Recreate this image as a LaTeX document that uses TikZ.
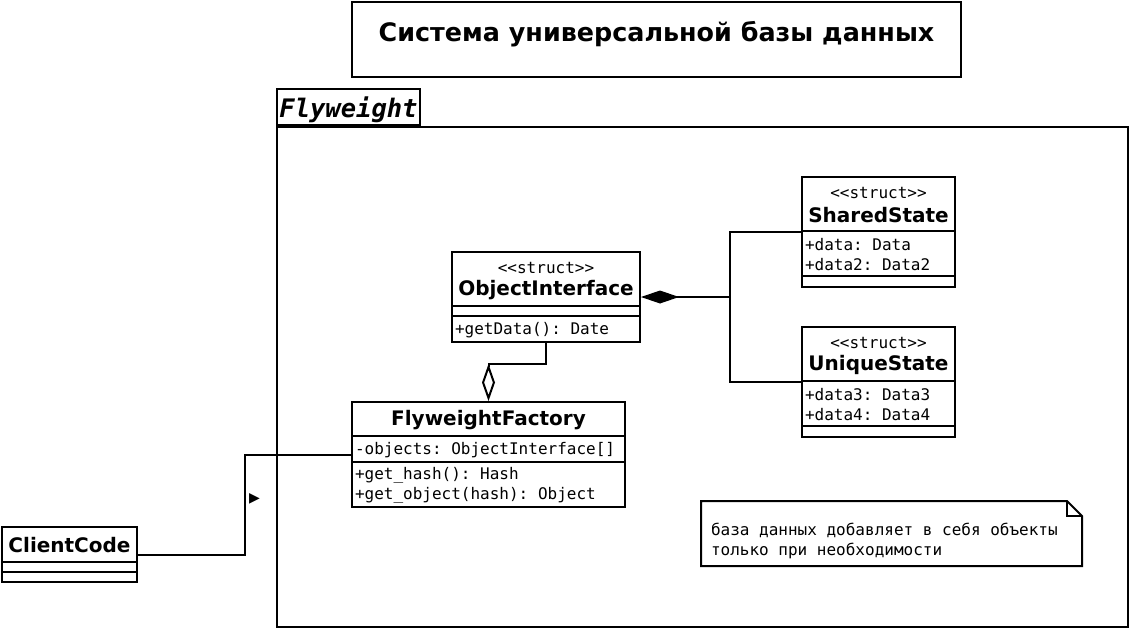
\documentclass[tikz,border=0pt]{standalone}
\usepackage{fontspec}
\setmainfont{DejaVu Sans}
\setmonofont{DejaVu Sans Mono}
\usetikzlibrary{positioning,arrows.meta}

\begin{document}
\begin{tikzpicture}[x=1pt, y=-1pt, line width=2pt,
    box/.style={draw, fill=white, inner sep=0pt},
    frame/.style={draw, inner sep=0pt},
    sep/.style={draw},
    cname/.style={font=\fontsize{20}{24}\selectfont\bfseries, inner sep=0pt},
    stereo/.style={font=\fontsize{16}{20}\selectfont\ttfamily, inner sep=0pt},
    member/.style={font=\fontsize{16}{20}\selectfont\ttfamily, inner sep=0pt, align=left, anchor=west},
    conn/.style={draw, line width=2pt}]
    \useasboundingbox (0,0) rectangle (1129,629);

    % title
    \node[box, minimum width=609pt, minimum height=75pt] (title) at (656.5,39.5) {};
    \node[font=\fontsize{25.4}{30}\selectfont\bfseries, inner sep=0pt] (title-tx) at ([yshift=-33pt]title.north) {Система универсальной базы данных};

    % package
    \node[frame, minimum width=851pt, minimum height=500pt] (pkg) at (702.5,377) {};
    \node[frame, minimum width=143pt, minimum height=36pt, anchor=south west, text depth=0pt,
          font=\fontsize{25.5}{30}\selectfont\ttfamily\bfseries\itshape] (pkg-tab) at (pkg.north west) {Flyweight};

    % ObjectInterface
    \node[box, minimum width=188pt, minimum height=90pt] (oi) at (546,297) {};
    \path[sep] ([yshift=-55pt]oi.north west) -- ([yshift=-55pt]oi.north east);
    \path[sep] ([yshift=-65pt]oi.north west) -- ([yshift=-65pt]oi.north east);
    \node[stereo] (oi-st) at ([yshift=-17pt]oi.north) {<<struct>>};
    \node[cname] (oi-nm) at ([yshift=-39pt]oi.north) {ObjectInterface};
    \node[member] (oi-op) at ([xshift=3pt,yshift=-79pt]oi.north west) {+getData(): Date};

    % SharedState
    \node[box, minimum width=153pt, minimum height=110pt] (ss) at (878.5,232) {};
    \path[sep] ([yshift=-55pt]ss.north west) -- ([yshift=-55pt]ss.north east);
    \path[sep] ([yshift=-100pt]ss.north west) -- ([yshift=-100pt]ss.north east);
    \node[stereo] (ss-st) at ([yshift=-17pt]ss.north) {<<struct>>};
    \node[cname] (ss-nm) at ([yshift=-39pt]ss.north) {SharedState};
    \node[member] (ss-at) at ([xshift=3pt,yshift=-79pt]ss.north west) {+data: Data\\+data2: Data2};

    % UniqueState
    \node[box, minimum width=153pt, minimum height=110pt] (us) at (878.5,382) {};
    \path[sep] ([yshift=-55pt]us.north west) -- ([yshift=-55pt]us.north east);
    \path[sep] ([yshift=-100pt]us.north west) -- ([yshift=-100pt]us.north east);
    \node[stereo] (us-st) at ([yshift=-17pt]us.north) {<<struct>>};
    \node[cname] (us-nm) at ([yshift=-39pt]us.north) {UniqueState};
    \node[member] (us-at) at ([xshift=3pt,yshift=-79pt]us.north west) {+data3: Data3\\+data4: Data4};

    % FlyweightFactory
    \node[box, minimum width=273pt, minimum height=105pt] (ff) at (488.5,454.5) {};
    \path[sep] ([yshift=-35pt]ff.north west) -- ([yshift=-35pt]ff.north east);
    \path[sep] ([yshift=-61pt]ff.north west) -- ([yshift=-61pt]ff.north east);
    \node[cname] (ff-nm) at ([yshift=-19pt]ff.north) {FlyweightFactory};
    \node[member] (ff-at) at ([xshift=3pt,yshift=-49pt]ff.north west) {-objects: ObjectInterface[]};
    \node[member] (ff-op) at ([xshift=3pt,yshift=-84pt]ff.north west) {+get\_hash(): Hash\\+get\_object(hash): Object};

    % ClientCode
    \node[box, minimum width=135pt, minimum height=55pt] (cc) at (69.5,554.5) {};
    \path[sep] ([yshift=-36pt]cc.north west) -- ([yshift=-36pt]cc.north east);
    \path[sep] ([yshift=-46pt]cc.north west) -- ([yshift=-46pt]cc.north east);
    \node[cname] (cc-nm) at ([yshift=-19pt]cc.north) {ClientCode};

    % note
    \node[minimum width=379pt, minimum height=63pt, inner sep=0pt] (note) at (891.5,533.5) {};
    \draw (note.north west) -- ([xshift=-15pt]note.north east) -- ([yshift=-15pt]note.north east)
        -- (note.south east) -- (note.south west) -- cycle;
    \draw ([xshift=-15pt]note.north east) |- ([yshift=-15pt]note.north east);
    \node[member] (note-tx) at ([xshift=9pt,yshift=-7pt]note.west) {база данных добавляет в себя объекты\\только при необходимости};

    % connectors
    \coordinate (jn) at (730,297);
    \coordinate (bend) at (245,505);
    \path[conn, {Diamond[length=38pt, width=13pt]}-] (oi.east) -- (jn);
    \path[conn] (ss.west) -| (jn) |- (us.west);
    \path[conn, {Diamond[open, length=37pt, width=13pt]}-] (ff.north) -- ([yshift=37pt]ff.north) -| (oi.south);
    \path[conn] (cc.east) -| (bend) |- (ff.west);
    \node[font=\fontsize{14}{16}\selectfont, inner sep=0pt] (dir) at (254.5,499) {▶};
\end{tikzpicture}
\end{document}
